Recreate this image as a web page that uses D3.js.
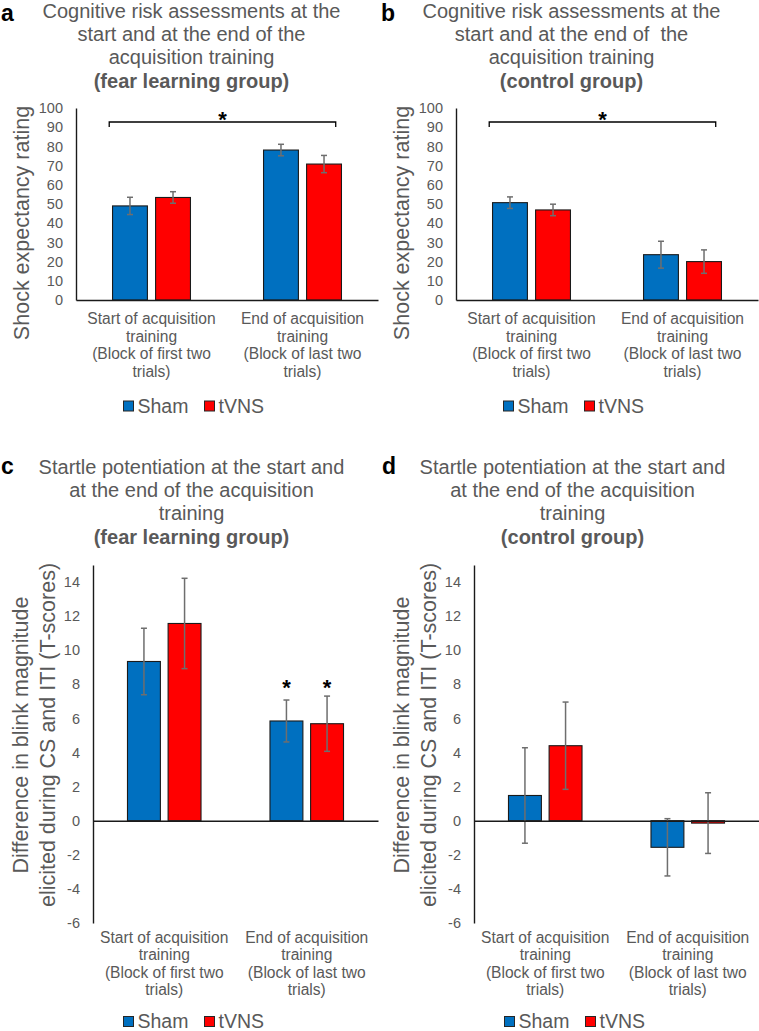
<!DOCTYPE html>
<html>
<head>
<meta charset="utf-8">
<script src="https://cdn.jsdelivr.net/npm/d3@7"></script>
<style>
  html, body { margin: 0; padding: 0; background: #fff; }
  svg { display: block; }
  text { font-family: 'Liberation Sans', Arial, sans-serif; }
</style>
</head>
<body>
<svg id="chart" width="759" height="1031"></svg>
<script>
// ---------------- DATA ----------------
const categories = ["start", "end"];
const categoryLines = [
  ["Start of acquisition", "training", "(Block of first two", "trials)"],
  ["End of acquisition", "training", "(Block of last two", "trials)"]
];
const seriesNames = ["Sham", "tVNS"];
const seriesColors = ["#0070C0", "#FF0000"];

// Panel a: shock expectancy, fear learning group
const aSham = [49.0, 78.1];
const aShamErr = [4.5, 3.0];
const aTvns = [53.4, 70.8];
const aTvnsErr = [3.0, 4.5];

// Panel b: shock expectancy, control group
const bSham = [50.7, 23.6];
const bShamErr = [3.0, 7.0];
const bTvns = [46.9, 20.0];
const bTvnsErr = [3.0, 6.1];

// Panel c: startle potentiation, fear learning group
const cSham = [9.34, 5.85];
const cShamErr = [1.95, 1.23];
const cTvns = [11.57, 5.69];
const cTvnsErr = [2.65, 1.62];

// Panel d: startle potentiation, control group
const dSham = [1.48, -1.56];
const dShamErr = [2.8, 1.68];
const dTvns = [4.40, -0.14];
const dTvnsErr = [2.56, 1.78];

const ratingTicks = [0, 10, 20, 30, 40, 50, 60, 70, 80, 90, 100];
const ratingDomain = [0, 100];
const tscoreTicks = [-6, -4, -2, 0, 2, 4, 6, 8, 10, 12, 14];
const tscoreDomain = [-6, 15];

const titleA = ["Cognitive risk assessments at the", "start and at the end of the", "acquisition training", "(fear learning group)"];
const titleB = ["Cognitive risk assessments at the", "start and at the end of  the", "acquisition training", "(control group)"];
const titleC = ["Startle potentiation at the start and", "at the end of the acquisition", "training", "(fear learning group)"];
const titleD = ["Startle potentiation at the start and", "at the end of the acquisition", "training", "(control group)"];
const yTitleRating = ["Shock expectancy rating"];
const yTitleTscore = ["Difference in blink magnitude", "elicited during CS and ITI (T-scores)"];

// ---------------- LAYOUT ----------------
const GRAY = "#595959";
const svg = d3.select("#chart");

const panels = [
  { letter: "a", ox: 0, titleY: 18, title: titleA, yTitle: yTitleRating, yTitleX: [29], yTitleCy: 223,
    xr: [76, 378], yDomain: ratingDomain, yRange: [300, 108], ticks: ratingTicks,
    sham: aSham, shamErr: aShamErr, tvns: aTvns, tvnsErr: aTvnsErr,
    catY: 324, catStep: 17.7, legendY: 406, bracket: 92.7, stars: null },
  { letter: "b", ox: 380, titleY: 18, title: titleB, yTitle: yTitleRating, yTitleX: [29], yTitleCy: 223,
    xr: [76, 378], yDomain: ratingDomain, yRange: [300, 108], ticks: ratingTicks,
    sham: bSham, shamErr: bShamErr, tvns: bTvns, tvnsErr: bTvnsErr,
    catY: 324, catStep: 17.7, legendY: 406, bracket: 92.7, stars: null },
  { letter: "c", ox: 0, titleY: 474, title: titleC, yTitle: yTitleTscore, yTitleX: [28, 55], yTitleCy: 735,
    xr: [93, 378], yDomain: tscoreDomain, yRange: [923, 565], ticks: tscoreTicks,
    sham: cSham, shamErr: cShamErr, tvns: cTvns, tvnsErr: cTvnsErr,
    catY: 943, catStep: 17.4, legendY: 1021.5, bracket: null, stars: 7.35 },
  { letter: "d", ox: 381, titleY: 474, title: titleD, yTitle: yTitleTscore, yTitleX: [28, 55], yTitleCy: 735,
    xr: [93, 378], yDomain: tscoreDomain, yRange: [923, 565], ticks: tscoreTicks,
    sham: dSham, shamErr: dShamErr, tvns: dTvns, tvnsErr: dTvnsErr,
    catY: 943, catStep: 17.4, legendY: 1021.5, bracket: null, stars: null }
];

panels.forEach(p => {
  const g = svg.append("g").attr("transform", `translate(${p.ox},0)`);

  // panel letter
  g.append("text").attr("x", 1).attr("y", Math.max(p.titleY, 21))
    .attr("font-size", 23).attr("font-weight", "bold").attr("fill", "#000").text(p.letter);

  // title
  const t = g.append("text").attr("text-anchor", "middle").attr("fill", GRAY)
    .attr("font-size", 20).style("white-space", "pre");
  p.title.forEach((line, i) => {
    t.append("tspan").attr("x", 191.5).attr("y", p.titleY + i * 23.2)
      .attr("font-weight", i === p.title.length - 1 ? "bold" : "normal").text(line);
  });

  // scales
  const x0 = d3.scaleBand().domain(categories).range(p.xr).paddingInner(0).paddingOuter(0);
  const bw = x0.bandwidth();
  const x1 = d3.scaleBand().domain(seriesNames).range([bw * 0.242, bw * 0.758]).paddingInner(0.19).paddingOuter(0);
  const y = d3.scaleLinear().domain(p.yDomain).range(p.yRange);

  // y axis
  const ya = g.append("g").attr("transform", `translate(${p.xr[0]},0)`)
    .call(d3.axisLeft(y).tickValues(p.ticks).tickFormat(d => String(d)).tickSize(0).tickSizeOuter(0).tickPadding(13));
  ya.select(".domain").attr("stroke", "#1a1a1a").attr("stroke-width", 1.4);
  ya.selectAll(".tick text").attr("fill", GRAY).attr("font-size", 14.5)
    .attr("font-family", "'Liberation Sans', Arial, sans-serif");

  // y axis title
  const yt = g.append("text").attr("text-anchor", "middle").attr("fill", GRAY).attr("font-size", 21.5)
    .attr("transform", `translate(0,${p.yTitleCy}) rotate(-90)`);
  p.yTitle.forEach((line, i) => {
    yt.append("tspan").attr("x", 0).attr("y", p.yTitleX[i]).text(line);
  });

  // bars
  const rows = categories.map((c, i) => ({
    cat: c,
    vals: [
      { s: seriesNames[0], v: p.sham[i], e: p.shamErr[i], col: seriesColors[0] },
      { s: seriesNames[1], v: p.tvns[i], e: p.tvnsErr[i], col: seriesColors[1] }
    ]
  }));
  const grp = g.selectAll(".cat").data(rows).enter().append("g")
    .attr("transform", d => `translate(${x0(d.cat)},0)`);
  grp.selectAll("rect").data(d => d.vals).enter().append("rect")
    .attr("x", d => x1(d.s)).attr("width", x1.bandwidth())
    .attr("y", d => y(Math.max(0, d.v)))
    .attr("height", d => Math.abs(y(d.v) - y(0)))
    .attr("fill", d => d.col).attr("stroke", "#1a1a1a").attr("stroke-width", 1.1);

  // x axis (zero line)
  const xa = g.append("g").attr("transform", `translate(0,${y(0)})`)
    .call(d3.axisBottom(x0).tickSize(0).tickSizeOuter(0).tickFormat(""));
  xa.select(".domain").attr("stroke", "#1a1a1a").attr("stroke-width", 1.4);

  // error bars
  const eb = grp.selectAll(".err").data(d => d.vals).enter().append("g")
    .attr("stroke", "#6e6e6e").attr("stroke-width", 1.5);
  eb.append("line")
    .attr("x1", d => x1(d.s) + x1.bandwidth() / 2).attr("x2", d => x1(d.s) + x1.bandwidth() / 2)
    .attr("y1", d => y(d.v - d.e)).attr("y2", d => y(d.v + d.e));
  ["+", "-"].forEach(sign => {
    eb.append("line")
      .attr("x1", d => x1(d.s) + x1.bandwidth() / 2 - 3).attr("x2", d => x1(d.s) + x1.bandwidth() / 2 + 3)
      .attr("y1", d => y(sign === "+" ? d.v + d.e : d.v - d.e))
      .attr("y2", d => y(sign === "+" ? d.v + d.e : d.v - d.e));
  });

  // category labels
  categories.forEach((c, i) => {
    const ct = g.append("text").attr("text-anchor", "middle").attr("fill", GRAY).attr("font-size", 15.6);
    categoryLines[i].forEach((line, j) => {
      ct.append("tspan").attr("x", x0(c) + bw / 2).attr("y", p.catY + j * p.catStep).text(line);
    });
  });

  // significance bracket
  if (p.bracket !== null) {
    const by = y(p.bracket);
    const bx1 = x0(categories[0]) + bw * 0.22;
    const bx2 = x0(categories[1]) + bw * 0.72;
    g.append("path").attr("d", `M${bx1},${by + 5}V${by}H${bx2}V${by + 5}`)
      .attr("fill", "none").attr("stroke", "#000").attr("stroke-width", 1.3);
    g.append("text").attr("x", (bx1 + bx2) / 2).attr("y", by + 5).attr("text-anchor", "middle")
      .attr("font-size", 22).attr("font-weight", "bold").attr("fill", "#000").text("*");
  }
  if (p.stars !== null) {
    seriesNames.forEach(s => {
      g.append("text").attr("x", x0(categories[1]) + x1(s) + x1.bandwidth() / 2).attr("y", y(p.stars))
        .attr("text-anchor", "middle").attr("font-size", 22).attr("font-weight", "bold").attr("fill", "#000").text("*");
    });
  }

  // legend
  const lg = g.append("g").attr("transform", `translate(123,${p.legendY})`);
  const items = [{ n: seriesNames[0], c: seriesColors[0], dx: 0 }, { n: seriesNames[1], c: seriesColors[1], dx: 81 }];
  items.forEach(it => {
    lg.append("rect").attr("x", it.dx + 0.5).attr("y", -5).attr("width", 10).attr("height", 10)
      .attr("fill", it.c).attr("stroke", "#262626").attr("stroke-width", 1);
    lg.append("text").attr("x", it.dx + 14.5).attr("y", 6.5).attr("fill", GRAY).attr("font-size", 19.5).text(it.n);
  });
});
</script>
</body>
</html>
